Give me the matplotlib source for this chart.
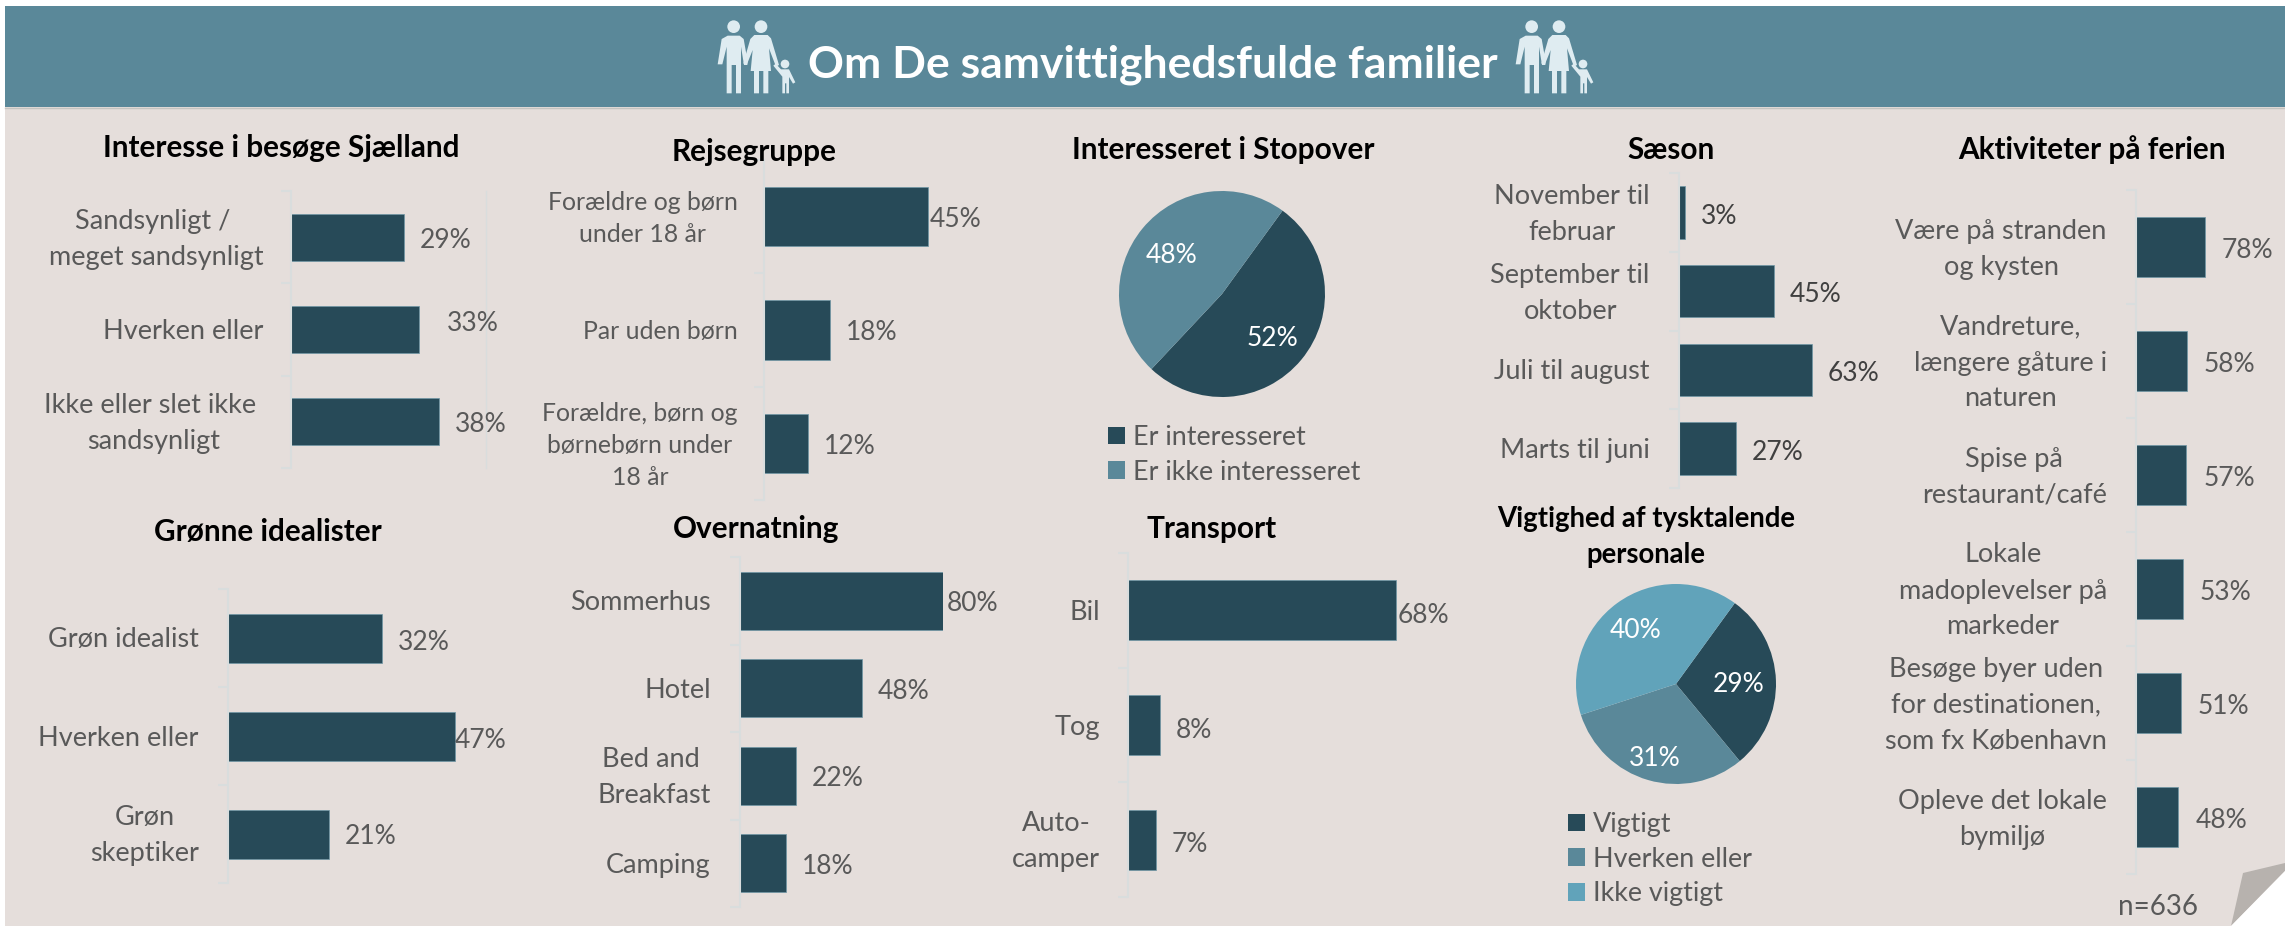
#!/usr/bin/env python3
# -*- coding: utf-8 -*-
"""
Om De samvittighedsfulde familier: dashboard of bar and pie charts
"""

import matplotlib
matplotlib.use("Agg")
import matplotlib.pyplot as plt
import numpy as np
from matplotlib.patches import Circle, Polygon, Rectangle
from matplotlib.transforms import ScaledTranslation

##! Data:
main_title = "Om De samvittighedsfulde familier"

interesse_cats = ["Sandsynligt / \nmeget sandsynligt", "Hverken eller", "Ikke eller slet ikke \nsandsynligt"]
interesse_vals = [29, 33, 38]

rejse_cats = ["Forældre og børn\nunder 18 år", "Par uden børn", "Forældre, børn og\nbørnebørn under\n18 år"]
rejse_vals = [45, 18, 12]

saeson_cats = ["November til\nfebruar", "September til\noktober", "Juli til august", "Marts til juni"]
saeson_vals = [3, 45, 63, 27]

aktiv_cats = ["Være på stranden\nog kysten", "Vandreture,\nlængere gåture i\nnaturen", "Spise på\nrestaurant/café",
              "Lokale\nmadoplevelser på\nmarkeder", "Besøge byer uden\nfor destinationen,\nsom fx København",
              "Opleve det lokale\nbymiljø"]
aktiv_vals = [78, 58, 57, 53, 51, 48]

groenne_cats = ["Grøn idealist", "Hverken eller", "Grøn\nskeptiker"]
groenne_vals = [32, 47, 21]

overnat_cats = ["Sommerhus", "Hotel", "Bed and \nBreakfast", "Camping"]
overnat_vals = [80, 48, 22, 18]

transport_cats = ["Bil", "Tog", "Auto-\ncamper"]
transport_vals = [68, 8, 7]

stopover_labels = ["Er interesseret", "Er ikke interesseret"]
stopover_vals = [52, 48]

tysk_labels = ["Vigtigt", "Hverken eller", "Ikke vigtigt"]
tysk_vals = [29, 31, 40]

##! Style:
W, H = 2285, 926
DARK = "#274A58"
MID = "#5A8899"
LIGHT = "#61A3BA"
BG = "#E5DEDB"
GREY = "#595959"
AXIS = "#D9DDDD"
ICON = "#DFECF1"

plt.rcParams["font.family"] = ["Lato", "DejaVu Sans"]

fig = plt.figure(figsize=(W / 100, H / 100), dpi=100, facecolor="white")


def px_axes(x0, y0, x1, y1, **kw):
    # axes from pixel corners, y counted from the top of the picture
    return fig.add_axes([x0 / W, 1 - y1 / H, (x1 - x0) / W, (y1 - y0) / H], **kw)


def head(x, y, txt, size=21.4, spacing=1.2):
    fig.text(x / W, 1 - y / H, txt, ha="center", va="center", fontsize=size, fontweight="bold",
             color="black", linespacing=spacing)


def bar_panel(cats, vals, x, y0, y1, per_pct, xmax, bar_h, gaps, dys, cat_size=19.5, spacing=1.55,
              pad=21, val_col=GREY, grid=False):
    ax = px_axes(x, y0, x + per_pct * xmax, y1)
    ax.patch.set_alpha(0)
    n = len(vals)
    ax.barh(range(n), vals, height=bar_h, color=DARK, edgecolor="#6F97A5", linewidth=0.5)
    ax.set_xlim(0, xmax)
    ax.set_ylim(n - 0.5, -0.5)
    ax.set_yticks(range(n), cats)
    ax.set_yticks(np.arange(n + 1) - 0.5, minor=True)
    ax.tick_params(axis="y", which="major", length=0, pad=pad, labelsize=cat_size, labelcolor=GREY)
    ax.tick_params(axis="y", which="minor", length=7.2, width=1.5, color=AXIS)
    down = ScaledTranslation(0, -0.02, fig.dpi_scale_trans)
    for lab in ax.get_yticklabels():
        lab.set_multialignment("center")
        lab.set_linespacing(spacing)
        lab.set_verticalalignment("center")
        lab.set_transform(lab.get_transform() + down)
    ax.xaxis.set_visible(False)
    for s in ["top", "bottom", "right"]:
        ax.spines[s].set_visible(False)
    ax.spines["left"].set_color(AXIS)
    ax.spines["left"].set_linewidth(1.5)
    if grid:
        ax.spines["right"].set_visible(True)
        ax.spines["right"].set_color(AXIS)
        ax.spines["right"].set_linewidth(1.0)
    for i, v in enumerate(vals):
        ax.annotate(f"{v}%", xy=(v, i), xytext=(gaps[i], -dys[i]), textcoords="offset pixels",
                    ha="left", va="center", fontsize=19, color=val_col, annotation_clip=False)
    return ax


def pie_panel(vals, labels, colors, cx, cy, r, start, dists, leg_x, leg_y):
    ax = px_axes(cx - r, cy - r, cx + r, cy + r)
    wedges, _ = ax.pie(vals, colors=colors, startangle=start, counterclock=False, radius=1)
    ax.set_xlim(-1, 1)
    ax.set_ylim(-1, 1)
    for w, v, d in zip(wedges, vals, dists):
        ang = np.radians((w.theta1 + w.theta2) / 2)
        ax.text(d * np.cos(ang), d * np.sin(ang) - 0.025, f"{v}%", ha="center", va="center", fontsize=19, color="white")
    fig.legend(wedges, labels, loc="upper left", bbox_to_anchor=(leg_x / W, 1 - leg_y / H), frameon=False,
               fontsize=19.4, labelcolor=GREY, borderpad=0, borderaxespad=0, handlelength=0.63, handleheight=0.63,
               handletextpad=0.3, labelspacing=0.36)
    return ax


def family_icon(ax, x0, y0):
    # pictogram in a 300x255 box at 3x, as measured from the header
    man = [(68, 62), (104, 62), (116, 72), (128, 140), (127, 150), (117, 150), (108, 95), (108, 235), (93, 235),
           (93, 150), (80, 150), (80, 235), (65, 235), (65, 95), (52, 148), (38, 148), (50, 72)]
    woman = [(148, 60), (188, 60), (198, 70), (222, 150), (213, 155), (192, 100), (198, 168), (190, 168), (190, 235),
             (175, 235), (175, 168), (162, 168), (162, 235), (147, 235), (147, 168), (137, 168), (143, 105),
             (125, 150), (115, 145), (136, 72)]
    child = [(228, 163), (252, 163), (271, 202), (264, 206), (252, 186), (252, 235), (244, 235), (244, 205),
             (240, 205), (240, 235), (232, 235), (232, 185), (205, 152), (212, 146)]
    for pts in [man, woman, child]:
        ax.add_patch(Polygon([(x0 + a / 3, y0 + b / 3) for a, b in pts], closed=True, fc=ICON, ec="none"))
    for a, b, r in [(86, 35, 19), (168, 35, 19), (240, 147, 13)]:
        ax.add_patch(Circle((x0 + a / 3, y0 + b / 3), r / 3, fc=ICON, ec="none"))


##! Background, header, page curl:
bg = px_axes(0, 0, W, H)
bg.set_xlim(0, W)
bg.set_ylim(H, 0)
bg.axis("off")
bg.add_patch(Rectangle((5, 107), W - 5, H - 107, fc=BG, ec="none"))
bg.add_patch(Rectangle((5, 6), W - 5, 101, fc=MID, ec="none"))
bg.plot([5, W], [107.5, 107.5], color="#C4C4C0", lw=1)
bg.text(1153, 65, main_title, ha="center", va="center", fontsize=32, fontweight="bold", color="white")
family_icon(bg, 705, 15)
family_icon(bg, 1503, 15)
bg.add_patch(Polygon([(2243, 873), (2285, 863), (2285, 871), (2231, 926)], closed=True, fc="#B7B2AE", ec="none"))
bg.add_patch(Polygon([(2285, 871), (2285, 926), (2231, 926)], closed=True, fc="white", ec="none"))
bg.text(2158, 907, "n=636", ha="center", va="center", fontsize=20, color=GREY)

##! Bar panels:
head(281, 148, "Interesse i besøge Sjælland")
bar_panel(interesse_cats, interesse_vals, 291, 191, 468, 3.89, 50, 0.51, [16, 28, 16], [3, -6, 3], pad=20, grid=True)

head(754, 152, "Rejsegruppe")
bar_panel(rejse_cats, rejse_vals, 764, 160, 500, 3.64, 50, 0.525, [2, 16, 16], [3, 3, 3], cat_size=17.8, spacing=1.48, pad=19)

head(1671, 150, "Sæson")
bar_panel(saeson_cats, saeson_vals, 1679, 173, 488, 2.11, 70, 0.667, [16, 16, 16, 16], [4, 3, 4, 4], val_col="#404040")

head(2092, 150, "Aktiviteter på ferien")
bar_panel(aktiv_cats, aktiv_vals, 2136, 190, 874, 0.88, 80, 0.522, [17, 17, 17, 17, 17, 17], [3, 3, 3, 3, 3, 3])

head(268, 532, "Grønne idealister")
bar_panel(groenne_cats, groenne_vals, 228, 589, 883, 4.82, 50, 0.5, [16, 0, 16], [4, 4, 3])

head(756, 529, "Overnatning")
bar_panel(overnat_cats, overnat_vals, 740, 557, 907, 2.54, 80, 0.665, [4, 16, 16, 16], [3, 3, 3, 3])

head(1212, 529, "Transport")
bar_panel(transport_cats, transport_vals, 1128, 553, 897, 3.94, 70, 0.525, [2, 16, 16], [5, 5, 5], pad=20)

##! Pie panels:
head(1223, 150, "Interesseret i Stopover")
pie_panel(stopover_vals, stopover_labels, [DARK, MID], 1222, 294, 103, 54, [0.64, 0.63], 1108, 425)

head(1646, 537, "Vigtighed af tysktalende\npersonale", size=19.8, spacing=1.48)
pie_panel(tysk_vals, tysk_labels, [DARK, MID, LIGHT], 1676, 684, 100, 54, [0.63, 0.75, 0.69], 1568, 812)

fig.savefig("out.png", dpi=100)
